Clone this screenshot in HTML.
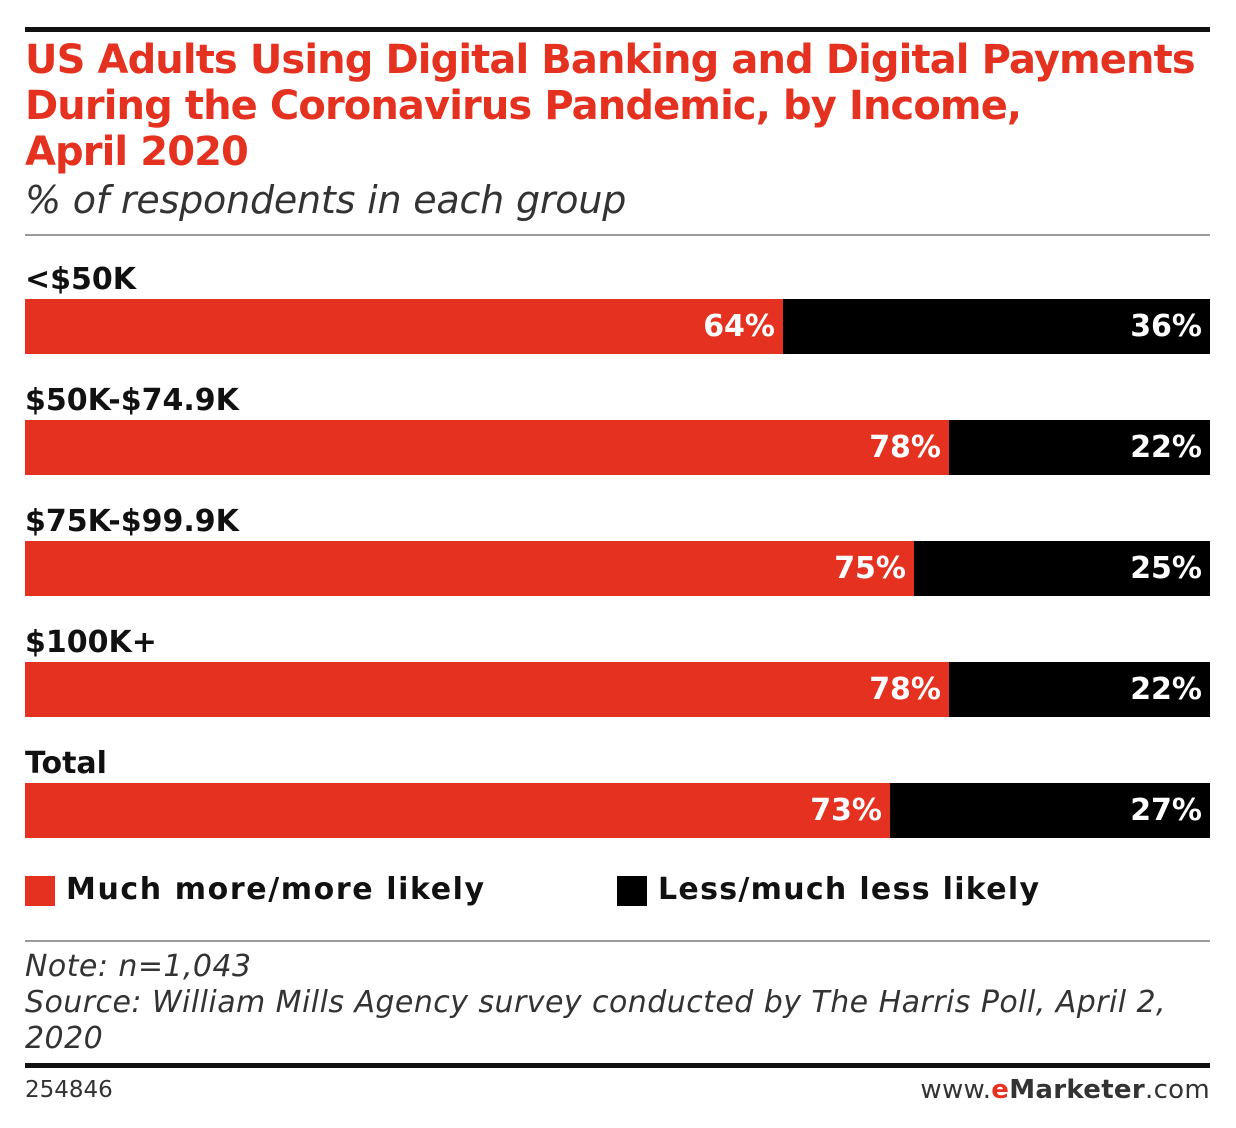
<!DOCTYPE html>
<html><head><style>
body{margin:0;width:1236px;height:1128px;background:#fff;position:relative;font-family:"DejaVu Sans","Liberation Sans",sans-serif;overflow:hidden}
.a{position:absolute;white-space:nowrap}
.t{color:#e5311f;font-weight:bold;font-size:40px;line-height:46px;left:25px;top:37px;letter-spacing:-0.9px}
.sub{left:25px;top:178px;font-size:38px;font-style:italic;color:#333;letter-spacing:-0.2px}
.lab{left:25px;font-weight:bold;font-size:30px;color:#111}
.bar{left:25px;width:1185px;height:55px;background:#000}
.r{position:absolute;left:0;top:0;height:55px;background:#e5311f}
.v{position:absolute;top:0;line-height:55px;color:#fff;font-weight:bold;font-size:30px}
.note{left:25px;font-style:italic;font-size:30px;color:#333;line-height:36px;letter-spacing:0.45px}
</style></head><body>
<div class="a" style="left:25px;top:27px;width:1185px;height:5px;background:#111"></div>
<div class="a t">US Adults Using Digital Banking and Digital Payments<br>During the Coronavirus Pandemic, by Income,<br>April 2020</div>
<div class="a sub">% of respondents in each group</div>
<div class="a" style="left:25px;top:234px;width:1185px;height:2px;background:#999"></div>

<div class="a lab" style="top:262px">&lt;$50K</div>
<div class="a bar" style="top:299px"><div class="r" style="width:758px"></div><div class="v" style="right:435px">64%</div><div class="v" style="right:8px">36%</div></div>
<div class="a lab" style="top:383px">$50K-$74.9K</div>
<div class="a bar" style="top:420px"><div class="r" style="width:924px"></div><div class="v" style="right:269px">78%</div><div class="v" style="right:8px">22%</div></div>
<div class="a lab" style="top:504px">$75K-$99.9K</div>
<div class="a bar" style="top:541px"><div class="r" style="width:889px"></div><div class="v" style="right:304px">75%</div><div class="v" style="right:8px">25%</div></div>
<div class="a lab" style="top:625px">$100K+</div>
<div class="a bar" style="top:662px"><div class="r" style="width:924px"></div><div class="v" style="right:269px">78%</div><div class="v" style="right:8px">22%</div></div>
<div class="a lab" style="top:746px">Total</div>
<div class="a bar" style="top:783px"><div class="r" style="width:865px"></div><div class="v" style="right:328px">73%</div><div class="v" style="right:8px">27%</div></div>

<div class="a" style="left:25px;top:876px;width:30px;height:30px;background:#e5311f"></div>
<div class="a lab" style="left:66px;top:872px;letter-spacing:1.6px">Much more/more likely</div>
<div class="a" style="left:617px;top:876px;width:30px;height:30px;background:#000"></div>
<div class="a lab" style="left:658px;top:872px;letter-spacing:1.3px">Less/much less likely</div>

<div class="a" style="left:25px;top:940px;width:1185px;height:2px;background:#999"></div>
<div class="a note" style="top:949px">Note: n=1,043<br>Source: William Mills Agency survey conducted by The Harris Poll, April 2,<br>2020</div>
<div class="a" style="left:25px;top:1063px;width:1185px;height:5px;background:#111"></div>
<div class="a" style="left:25px;top:1077px;font-size:23px;color:#333">254846</div>
<div class="a" style="right:26px;top:1075px;font-size:26px;color:#333;letter-spacing:0.3px">www.<b style="color:#e5311f">e</b><b>Marketer</b>.com</div>
</body></html>
